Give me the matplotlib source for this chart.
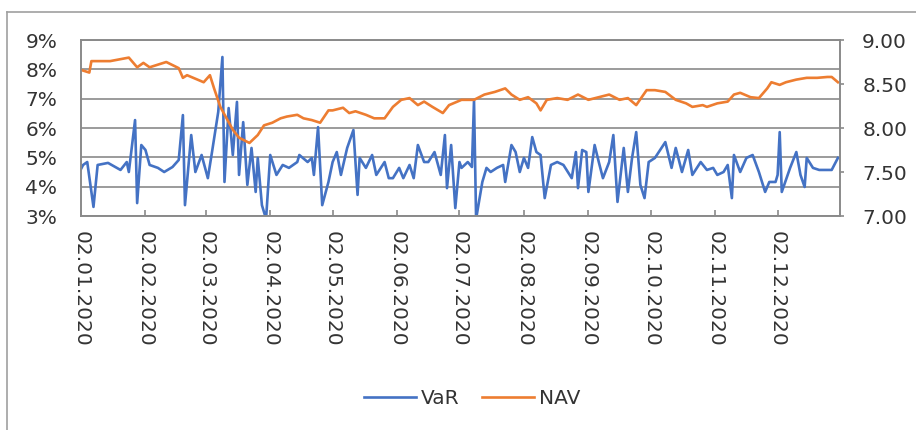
import matplotlib
matplotlib.use("Agg")
import matplotlib.pyplot as plt
import matplotlib.dates as mdates
from matplotlib.ticker import PercentFormatter, FormatStrFormatter, FixedLocator
from matplotlib.lines import Line2D
import pandas as pd

# VaR, %
var_dates = [
    "2020-01-02", "2020-01-03", "2020-01-05", "2020-01-08", "2020-01-10", "2020-01-15", "2020-01-21",
    "2020-01-24", "2020-01-25", "2020-01-28", "2020-01-29", "2020-01-31",
    "2020-02-02", "2020-02-04", "2020-02-08", "2020-02-11", "2020-02-15", "2020-02-18", "2020-02-20",
    "2020-02-21", "2020-02-24", "2020-02-26", "2020-02-29",
    "2020-03-03", "2020-03-05", "2020-03-08", "2020-03-10", "2020-03-11", "2020-03-13", "2020-03-15",
    "2020-03-17", "2020-03-18", "2020-03-20", "2020-03-22", "2020-03-24", "2020-03-26", "2020-03-27",
    "2020-03-29", "2020-03-31",
    "2020-04-02", "2020-04-05", "2020-04-08", "2020-04-11", "2020-04-15", "2020-04-16", "2020-04-20",
    "2020-04-22", "2020-04-23", "2020-04-25", "2020-04-27", "2020-04-30",
    "2020-05-02", "2020-05-04", "2020-05-06", "2020-05-09", "2020-05-12", "2020-05-14", "2020-05-15",
    "2020-05-18", "2020-05-21", "2020-05-23", "2020-05-27", "2020-05-29", "2020-05-31",
    "2020-06-03", "2020-06-05", "2020-06-08", "2020-06-10", "2020-06-12", "2020-06-15", "2020-06-17",
    "2020-06-20", "2020-06-23", "2020-06-25", "2020-06-26", "2020-06-28", "2020-06-30",
    "2020-07-02", "2020-07-03", "2020-07-06", "2020-07-08", "2020-07-09", "2020-07-10", "2020-07-13",
    "2020-07-15", "2020-07-17", "2020-07-20", "2020-07-23", "2020-07-24", "2020-07-27", "2020-07-29",
    "2020-07-31",
    "2020-08-02", "2020-08-04", "2020-08-06", "2020-08-08", "2020-08-10", "2020-08-12", "2020-08-15",
    "2020-08-18", "2020-08-21", "2020-08-25", "2020-08-27", "2020-08-28", "2020-08-30",
    "2020-09-01", "2020-09-02", "2020-09-05", "2020-09-07", "2020-09-09", "2020-09-12", "2020-09-14",
    "2020-09-16", "2020-09-19", "2020-09-21", "2020-09-23", "2020-09-25", "2020-09-27", "2020-09-29",
    "2020-10-01", "2020-10-04", "2020-10-09", "2020-10-12", "2020-10-14", "2020-10-17", "2020-10-20",
    "2020-10-22", "2020-10-26", "2020-10-29",
    "2020-11-01", "2020-11-03", "2020-11-06", "2020-11-08", "2020-11-10", "2020-11-11", "2020-11-14",
    "2020-11-17", "2020-11-20", "2020-11-23", "2020-11-26", "2020-11-28",
    "2020-12-01", "2020-12-02", "2020-12-03", "2020-12-04", "2020-12-08", "2020-12-11", "2020-12-13",
    "2020-12-15", "2020-12-16", "2020-12-19", "2020-12-22", "2020-12-26", "2020-12-28", "2020-12-31",
]
var_pct = [
    4.60, 4.74, 4.84, 3.31, 4.74, 4.81, 4.57, 4.84, 4.50, 6.27, 3.44, 5.42,
    5.25, 4.74, 4.64, 4.50, 4.67, 4.91, 6.44, 3.37, 5.76, 4.50, 5.08,
    4.29, 5.18, 6.55, 8.42, 4.16, 6.68, 5.08, 6.89, 4.40, 6.20, 4.06, 5.32, 3.82, 4.98, 3.37, 2.90,
    5.08, 4.40, 4.74, 4.64, 4.84, 5.08, 4.84, 4.98, 4.40, 6.03, 3.37, 4.16,
    4.84, 5.18, 4.40, 5.32, 5.93, 3.72, 4.98, 4.64, 5.08, 4.40, 4.84, 4.29, 4.29,
    4.64, 4.29, 4.74, 4.29, 5.42, 4.84, 4.84, 5.18, 4.40, 5.76, 3.95, 5.42, 3.27,
    4.84, 4.64, 4.84, 4.67, 6.95, 2.90, 4.16, 4.64, 4.50, 4.64, 4.74, 4.16, 5.42, 5.18, 4.50,
    4.98, 4.64, 5.69, 5.18, 5.08, 3.61, 4.74, 4.84, 4.74, 4.29, 5.18, 3.95, 5.25,
    5.18, 3.82, 5.42, 4.84, 4.29, 4.84, 5.76, 3.48, 5.32, 3.82, 4.98, 5.86, 4.06, 3.61,
    4.84, 4.98, 5.52, 4.64, 5.32, 4.50, 5.25, 4.40, 4.84, 4.57,
    4.64, 4.40, 4.50, 4.74, 3.61, 5.08, 4.50, 4.98, 5.08, 4.50, 3.82, 4.16,
    4.16, 4.40, 5.86, 3.82, 4.64, 5.18, 4.40, 3.99, 4.98, 4.64, 4.57, 4.57, 4.57, 4.98,
]

# NAV (right axis)
nav_dates = [
    "2020-01-02", "2020-01-06", "2020-01-07", "2020-01-16", "2020-01-25", "2020-01-29",
    "2020-02-01", "2020-02-04", "2020-02-08", "2020-02-12", "2020-02-18", "2020-02-20", "2020-02-22",
    "2020-02-26",
    "2020-03-01", "2020-03-04", "2020-03-06", "2020-03-09", "2020-03-12", "2020-03-15", "2020-03-18",
    "2020-03-23", "2020-03-27", "2020-03-30",
    "2020-04-03", "2020-04-07", "2020-04-10", "2020-04-15", "2020-04-18", "2020-04-22", "2020-04-26",
    "2020-04-30",
    "2020-05-02", "2020-05-07", "2020-05-10", "2020-05-13", "2020-05-18", "2020-05-22", "2020-05-27",
    "2020-05-31",
    "2020-06-04", "2020-06-08", "2020-06-12", "2020-06-15", "2020-06-19", "2020-06-24", "2020-06-27",
    "2020-06-29",
    "2020-07-03", "2020-07-09", "2020-07-14", "2020-07-19", "2020-07-24", "2020-07-27", "2020-07-31",
    "2020-08-04", "2020-08-08", "2020-08-10", "2020-08-13", "2020-08-18", "2020-08-23", "2020-08-28",
    "2020-09-02", "2020-09-07", "2020-09-12", "2020-09-17", "2020-09-21", "2020-09-25", "2020-09-30",
    "2020-10-04", "2020-10-09", "2020-10-14", "2020-10-19", "2020-10-22", "2020-10-27", "2020-10-29",
    "2020-11-03", "2020-11-08", "2020-11-11", "2020-11-14", "2020-11-19", "2020-11-23", "2020-11-27",
    "2020-11-29",
    "2020-12-03", "2020-12-06", "2020-12-11", "2020-12-16", "2020-12-21", "2020-12-26", "2020-12-28",
    "2020-12-31",
]
nav_values = [
    8.66, 8.63, 8.76, 8.76, 8.80, 8.69,
    8.74, 8.69, 8.72, 8.75, 8.68, 8.57, 8.60, 8.56,
    8.52, 8.60, 8.45, 8.24, 8.11, 7.98, 7.89, 7.83, 7.92, 8.03,
    8.06, 8.11, 8.13, 8.15, 8.11, 8.09, 8.06, 8.20,
    8.20, 8.23, 8.17, 8.19, 8.15, 8.11, 8.11, 8.24,
    8.32, 8.34, 8.26, 8.30, 8.24, 8.17, 8.26, 8.28,
    8.32, 8.32, 8.38, 8.41, 8.45, 8.38, 8.32,
    8.35, 8.28, 8.20, 8.32, 8.34, 8.32, 8.38,
    8.32, 8.35, 8.38, 8.32, 8.34, 8.26, 8.43,
    8.43, 8.41, 8.32, 8.28, 8.24, 8.26, 8.24,
    8.28, 8.30, 8.38, 8.40, 8.35, 8.34, 8.45, 8.52,
    8.49, 8.52, 8.55, 8.57, 8.57, 8.58, 8.58, 8.52,
]

tick_dates = ["2020-01-02", "2020-02-02", "2020-03-02", "2020-04-02", "2020-05-02", "2020-06-02",
              "2020-07-02", "2020-08-02", "2020-09-02", "2020-10-02", "2020-11-02", "2020-12-02"]

assert len(var_dates) == len(var_pct)
assert len(nav_dates) == len(nav_values)

blue = "#4472C4"
orange = "#ED7D31"
grid_col = "#8a8a8a"
txt = "#333333"
fs = 14.5

plt.rcParams["font.family"] = "DejaVu Sans"

fig = plt.figure(figsize=(9.16, 4.30), dpi=100)
ax = fig.add_axes([81 / 916, 1 - 216 / 430, (840 - 81) / 916, (216 - 40) / 430])
ax2 = ax.twinx()

vd = pd.to_datetime(var_dates)
nd = pd.to_datetime(nav_dates)
ax.plot(vd, [v / 100 for v in var_pct], color=blue, lw=1.9, label="VaR", solid_joinstyle="round")
ax2.plot(nd, nav_values, color=orange, lw=1.9, label="NAV", solid_joinstyle="round")

ax.set_xlim(pd.Timestamp("2020-01-02"), pd.Timestamp("2021-01-01"))
ax.set_ylim(0.03, 0.09)
ax.set_yticks([0.03, 0.04, 0.05, 0.06, 0.07, 0.08, 0.09])
ax.yaxis.set_major_formatter(PercentFormatter(1.0, decimals=0))
ax2.set_ylim(7.0, 9.0)
ax2.set_yticks([7.0, 7.5, 8.0, 8.5, 9.0])
ax2.yaxis.set_major_formatter(FormatStrFormatter("%.2f"))

ax.xaxis.set_major_locator(FixedLocator(mdates.date2num(pd.to_datetime(tick_dates))))
ax.xaxis.set_major_formatter(mdates.DateFormatter("%d.%m.%Y"))
for lab in ax.get_xticklabels():
    lab.set_rotation(-90)

ax.grid(axis="y", color=grid_col, lw=1.2)
ax.set_axisbelow(True)
for a in (ax, ax2):
    for s in a.spines.values():
        s.set_color(grid_col)
        s.set_linewidth(1.2)

ax.tick_params(axis="y", length=0, pad=17, labelsize=fs, labelcolor=txt)
ax.tick_params(axis="x", direction="in", length=4.5, color=grid_col, width=1.2, pad=11,
               labelsize=fs, labelcolor=txt)
ax2.tick_params(axis="y", direction="out", length=3, color=grid_col, width=1.2, pad=13,
                labelsize=fs, labelcolor=txt)

h1, l1 = ax.get_legend_handles_labels()
h2, l2 = ax2.get_legend_handles_labels()
fig.legend(h1 + h2, l1 + l2, loc="center", bbox_to_anchor=(472 / 916, 1 - 399 / 430), ncol=2,
           frameon=False, fontsize=fs, labelcolor=txt, handlelength=2.6, handletextpad=0.25,
           columnspacing=1.1)

# chart area border (left and top edge are visible)
fig.add_artist(Line2D([7 / 916, 7 / 916], [0, 1 - 12 / 430], transform=fig.transFigure,
                      color="#a0a0a0", lw=1.2))
fig.add_artist(Line2D([7 / 916, 1], [1 - 12 / 430, 1 - 12 / 430], transform=fig.transFigure,
                      color="#a0a0a0", lw=1.2))

fig.savefig("out.png", dpi=100)
